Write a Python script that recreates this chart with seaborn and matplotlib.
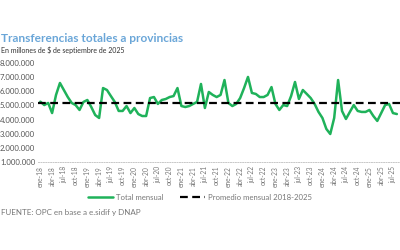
import matplotlib
matplotlib.use("Agg")
import matplotlib.pyplot as plt
import pandas as pd
import seaborn as sns

# monthly totals, ene-18 .. ago-25 (millones de $ de sep-2025)
year_2018 = [5.27, 5.03, 5.18, 4.46, 5.75, 6.60, 6.10, 5.60, 5.18, 5.03, 4.68, 5.25]
year_2019 = [5.39, 4.89, 4.32, 4.11, 6.24, 6.10, 5.67, 5.25, 4.61, 4.61, 4.96, 4.46]
year_2020 = [4.82, 4.39, 4.25, 4.25, 5.53, 5.60, 5.11, 5.39, 5.46, 5.60, 5.67, 6.24]
year_2021 = [4.96, 4.89, 4.96, 5.11, 5.25, 6.53, 4.82, 5.96, 5.75, 5.60, 5.75, 6.81]
year_2022 = [5.18, 4.96, 5.11, 5.53, 6.24, 7.03, 5.89, 5.82, 5.60, 5.60, 5.75, 6.31]
year_2023 = [5.11, 4.68, 5.03, 4.96, 5.67, 6.67, 5.46, 6.10, 5.82, 5.53, 5.11, 4.54]
year_2024 = [4.11, 3.33, 2.97, 4.11, 6.81, 4.61, 4.04, 4.54, 5.03, 4.61, 4.54, 4.54]
year_2025 = [4.68, 4.25, 3.90, 4.46, 5.03, 5.11, 4.46, 4.39]

average_total = 5.15  # promedio mensual 2018-2025 (millones of millones)

month_names = ["ene", "feb", "mar", "abr", "may", "jun",
               "jul", "ago", "sep", "oct", "nov", "dic"]
years = [18, 19, 20, 21, 22, 23, 24, 25]
y_ticks = [1, 2, 3, 4, 5, 6, 7, 8]

GREEN = "#1fb25a"
BLUE = "#6aa6d8"
GREY = "#777777"


def build_frame() -> pd.DataFrame:
    """
    Put the yearly lists together in one monthly frame
    """
    values = year_2018 + year_2019 + year_2020 + year_2021 + year_2022 + year_2023 + year_2024 + year_2025
    labels = [f"{m}-{y}" for y in years for m in month_names][:len(values)]
    df = pd.DataFrame({"mes": labels, "total": [v * 1_000_000 for v in values]})
    df["idx"] = range(len(df))
    return df


def plot_chart(df: pd.DataFrame):
    sns.set_theme(style="white")
    plt.rcParams["font.family"] = ["Lato", "DejaVu Sans"]

    fig = plt.figure(figsize=(4, 2.5), dpi=100)
    ax = fig.add_axes([0.095, 0.3532, 0.905, 0.3936])

    sns.lineplot(data=df, x="idx", y="total", ax=ax, color=GREEN, linewidth=1.8,
                 label="Total mensual")
    ax.axhline(average_total * 1_000_000, color="black", linewidth=1.6,
               linestyle=(0, (3.5, 2)), label="Promedio mensual 2018-2025")

    ax.set_xlim(-0.6, 91.8)
    ax.set_ylim(y_ticks[0] * 1_000_000, y_ticks[-1] * 1_000_000)
    ax.set_yticks([t * 1_000_000 for t in y_ticks])
    ax.set_yticklabels([f"{t * 1_000_000:,}".replace(",", ".") for t in y_ticks])

    quarter = df[df["idx"] % 3 == 0]
    ax.set_xticks(quarter["idx"])
    ax.set_xticklabels(quarter["mes"], rotation=90)

    ax.tick_params(axis="y", labelsize=5.6, colors="#555555", length=0, pad=2)
    ax.tick_params(axis="x", labelsize=4.8, colors=GREY, length=0, pad=3)
    ax.set_xlabel("")
    ax.set_ylabel("")
    for side in ["top", "right", "left"]:
        ax.spines[side].set_visible(False)
    ax.spines["bottom"].set_color("#c8c8c8")
    ax.spines["bottom"].set_linestyle((0, (1, 1.5)))
    ax.spines["bottom"].set_linewidth(0.7)

    ax.legend(loc="center", bbox_to_anchor=(0.5, 0.212), bbox_transform=fig.transFigure,
              ncol=2, frameon=False, fontsize=5.6, labelcolor=GREY,
              handlelength=3.3, columnspacing=2.0, handletextpad=0.4)

    fig.text(0.003, 0.845, "Transferencias totales a provincias", fontsize=8.6,
             fontweight="bold", color=BLUE, va="center", ha="left")
    fig.text(0.003, 0.8, "En millones de $ de septiembre de 2025", fontsize=5.0,
             color="#333333", va="center", ha="left")
    fig.text(0.003, 0.148, "FUENTE: OPC en base a e.sidif y DNAP", fontsize=5.8,
             color=GREY, va="center", ha="left")

    plt.savefig("out.png", dpi=100)
    plt.clf()


if __name__ == "__main__":
    frame = build_frame()
    plot_chart(frame)
